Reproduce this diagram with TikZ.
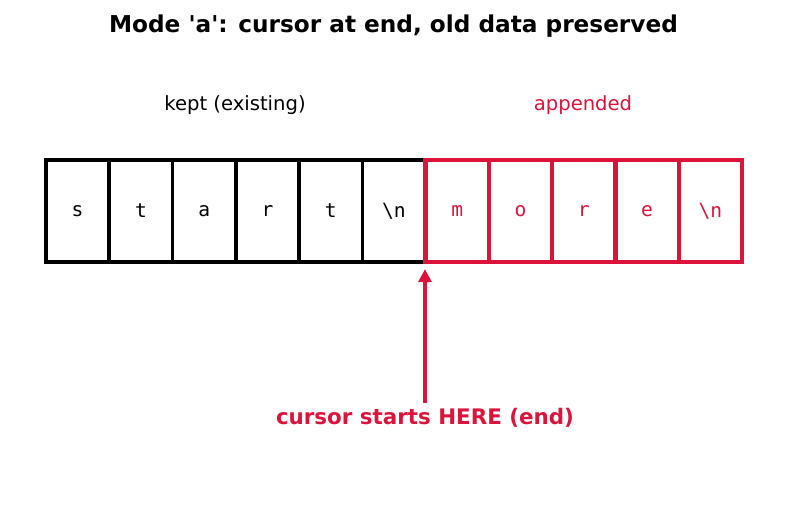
\documentclass[tikz,border=0pt]{standalone}
\usepackage{fontspec}
\setmainfont{DejaVu Sans}
\setmonofont{DejaVu Sans Mono}
\usepackage{xcolor}
\usetikzlibrary{arrows.meta}
\definecolor{crimson}{RGB}{220,20,60}

\begin{document}
\begin{tikzpicture}[x=1pt, y=-1pt,
        cell/.style={draw, rectangle, line width=3.6pt, minimum width=63.3pt, minimum height=102pt, inner sep=0pt, font=\fontsize{19.6}{23}\selectfont\ttfamily},
        newcell/.style={cell, draw=crimson, text=crimson, line width=4.3pt},
        label/.style={font=\fontsize{19.6}{23}\selectfont}]
        \useasboundingbox (0,0) rectangle (787,510);

        \node[font=\fontsize{23.2}{27}\selectfont\bfseries] (title) at (393.5,26) {Mode \textquotesingle a\textquotesingle: cursor at end, old data preserved};

        \node[label] (kept) at (235,105) {kept (existing)};
        \node[label, text=crimson] (added) at (583,105) {appended};

        % old bytes
        \foreach \ch [count=\i] in {s,t,a,r,t,\textbackslash n}
            \node[cell] (c\i) at ({46+63.27*(\i-0.5)},211) {\ch};

        % new bytes
        \foreach \ch [count=\i from 7] in {m,o,r,e,\textbackslash n}
            \node[newcell] (c\i) at ({46+63.27*(\i-0.5)},211) {\ch};

        \coordinate (tip) at ([xshift=1.5pt, yshift=-5pt]c7.south west);
        \node[font=\fontsize{21.4}{25}\selectfont\bfseries, text=crimson] (cursor) at (425,418) {cursor starts HERE (end)};
        \draw[crimson, line width=4pt, -{Triangle[length=13pt, width=13pt]}] ([yshift=2pt]cursor.north -| tip) -- (tip);
    \end{tikzpicture}
\end{document}
